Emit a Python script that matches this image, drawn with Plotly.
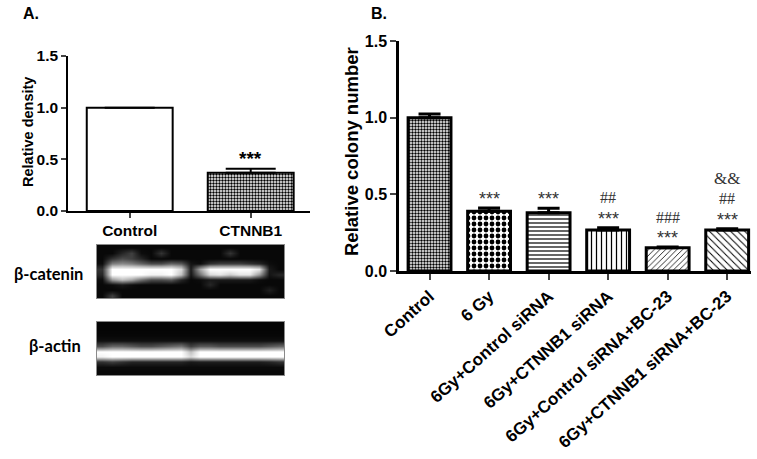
import plotly.graph_objects as go

# ---------------- data ----------------
a_categories = ["Control", "CTNNB1"]
a_values = [1.0, 0.37]
a_errors = [None, 0.04]
a_sig = ["", "***"]

b_categories = ["Control", "6 Gy", "6Gy+Control siRNA", "6Gy+CTNNB1 siRNA",
                "6Gy+Control siRNA+BC-23", "6Gy+CTNNB1 siRNA+BC-23"]
b_values = [1.0, 0.39, 0.38, 0.267, 0.152, 0.267]
b_errors = [0.024, 0.021, 0.029, 0.015, 0.004, 0.008]
b_stars = ["", "***", "***", "***", "***", "***"]
b_hashes = ["", "", "", "##", "###", "##"]
b_amps = ["", "", "", "", "", "&&"]

y_ticks = [0.0, 0.5, 1.0, 1.5]

# western blot intensities (rows top->bottom, columns left->right)
blot_catenin = [
    [0.03]*19,
    [0.03, 0.03, 0.15, 0.25, 0.05, 0.03, 0.2, 0.03, 0.03, 0.03, 0.03, 0.03, 0.03, 0.2, 0.03, 0.03, 0.03, 0.03, 0.03],
    [0.03, 0.2, 0.3, 0.25, 0.15, 0.03, 0.03, 0.03, 0.03, 0.03, 0.03, 0.03, 0.03, 0.03, 0.03, 0.03, 0.03, 0.03, 0.03],
    [0.05, 0.5, 0.55, 0.5, 0.4, 0.3, 0.3, 0.4, 0.35, 0.08, 0.05, 0.2, 0.25, 0.25, 0.25, 0.2, 0.15, 0.05, 0.03],
    [0.2, 1.0, 1.0, 1.0, 1.0, 1.0, 1.0, 1.0, 0.85, 0.1, 0.65, 1.0, 1.0, 1.0, 1.0, 1.0, 0.9, 0.1, 0.03],
    [0.15, 1.0, 1.0, 1.0, 1.0, 0.95, 0.95, 1.0, 0.75, 0.08, 0.45, 0.85, 0.9, 0.8, 0.9, 0.9, 0.6, 0.08, 0.15],
    [0.05, 0.6, 0.75, 0.65, 0.45, 0.3, 0.3, 0.35, 0.15, 0.03, 0.05, 0.1, 0.1, 0.1, 0.1, 0.1, 0.05, 0.03, 0.03],
    [0.03, 0.05, 0.1, 0.05, 0.03, 0.03, 0.03, 0.03, 0.03, 0.03, 0.03, 0.15, 0.03, 0.03, 0.03, 0.03, 0.03, 0.03, 0.03],
    [0.03, 0.03, 0.03, 0.03, 0.03, 0.03, 0.03, 0.03, 0.03, 0.03, 0.03, 0.03, 0.03, 0.03, 0.03, 0.03, 0.03, 0.12, 0.03],
    [0.03, 0.25, 0.03, 0.03, 0.03, 0.03, 0.03, 0.03, 0.03, 0.03, 0.03, 0.03, 0.03, 0.03, 0.03, 0.03, 0.03, 0.03, 0.03],
]
blot_actin = [
    [0.02]*19,
    [0.02]*19,
    [0.03]*19,
    [0.06]*19,
    [0.3, 0.4, 0.4, 0.35, 0.3, 0.3, 0.35, 0.4, 0.45, 0.25, 0.35, 0.35, 0.3, 0.3, 0.3, 0.3, 0.3, 0.35, 0.4],
    [1.0, 1.0, 1.0, 1.0, 1.0, 1.0, 1.0, 1.0, 1.0, 0.75, 1.0, 1.0, 1.0, 1.0, 1.0, 1.0, 1.0, 1.0, 1.0],
    [0.95, 1.0, 1.0, 1.0, 1.0, 1.0, 1.0, 1.0, 1.0, 0.85, 1.0, 1.0, 1.0, 1.0, 1.0, 1.0, 1.0, 1.0, 1.0],
    [0.2, 0.25, 0.2, 0.15, 0.15, 0.15, 0.15, 0.15, 0.15, 0.1, 0.12, 0.12, 0.12, 0.12, 0.12, 0.12, 0.12, 0.15, 0.2],
    [0.04]*19,
    [0.03]*19,
]

# ---------------- styling ----------------
SANS = "Liberation Sans, Arial, sans-serif"
SERIF = "Liberation Serif, Times New Roman, serif"
W, H = 757, 459

def px_x(p):
    return p / W

def px_y(p):
    return 1 - p / H

fig = go.Figure()

# Panel A bars
fig.add_trace(go.Bar(
    x=a_categories, y=a_values, xaxis="x", yaxis="y", width=0.71,
    marker=dict(color="white", line=dict(color="black", width=2),
                pattern=dict(shape=["", "."], size=3, solidity=0.5,
                             fgcolor="black", bgcolor="white")),
    error_y=dict(type="data", symmetric=False, array=a_errors,
                 arrayminus=[0, 0], color="black", thickness=2, width=25),
    hoverinfo="skip",
))

# Panel B bars
fig.add_trace(go.Bar(
    x=b_categories, y=b_values, xaxis="x2", yaxis="y2", width=0.72,
    marker=dict(color="white", line=dict(color="black", width=3),
                pattern=dict(shape=[".", ".", "-", "|", "/", "\\"],
                             size=[3, 6, 4, 5, 4, 5],
                             solidity=[0.5, 0.5, 0.3, 0.25, 0.2, 0.2],
                             fgcolor="black", bgcolor="white")),
    error_y=dict(type="data", symmetric=False, array=b_errors,
                 arrayminus=[0]*6, color="black", thickness=3, width=11),
    hoverinfo="skip",
))

gray = [[0, "black"], [1, "white"]]
fig.add_trace(go.Heatmap(z=blot_catenin, xaxis="x3", yaxis="y3", colorscale=gray,
                         zmin=0, zmax=1, zsmooth="best", showscale=False, hoverinfo="skip"))
fig.add_trace(go.Heatmap(z=blot_actin, xaxis="x4", yaxis="y4", colorscale=gray,
                         zmin=0, zmax=1, zsmooth="best", showscale=False, hoverinfo="skip"))

tick_font_a = dict(family=SANS, size=15.5, color="black", weight="bold")
tick_font_b = dict(family=SANS, size=16, color="black", weight="bold")
tick_font_bx = dict(family=SANS, size=17, color="black", weight="bold")

blot_axis = dict(showgrid=False, zeroline=False, showticklabels=False, ticks="",
                 showline=True, mirror=True, linecolor="#8a8a8a", linewidth=1,
                 automargin=False)

fig.update_layout(
    template="none",
    width=W, height=H, margin=dict(l=0, r=0, t=0, b=0, pad=0), autosize=False,
    paper_bgcolor="white", plot_bgcolor="white", showlegend=False,
    xaxis=dict(domain=[px_x(68), px_x(310)], anchor="y", range=[-0.51, 1.49],
               showgrid=False, zeroline=False, showline=True, linecolor="black",
               linewidth=1.5, ticks="outside", ticklen=5, tickwidth=1.5,
               tickfont=tick_font_a, automargin=False),
    yaxis=dict(domain=[px_y(211), px_y(56)], anchor="x", range=[0, 1.5],
               tickvals=y_ticks, tickformat=".1f", showgrid=False, zeroline=False,
               showline=True, linecolor="black", linewidth=1.5, ticks="outside",
               ticklen=5, tickwidth=1.5, tickfont=tick_font_a, automargin=False),
    xaxis2=dict(domain=[px_x(399), px_x(751)], anchor="y2", range=[-0.513, 5.40],
                showgrid=False, zeroline=False, showline=True, linecolor="black",
                linewidth=2.5, ticks="outside", ticklen=6, tickwidth=2,
                tickangle=-42, tickfont=tick_font_bx, automargin=False),
    yaxis2=dict(domain=[px_y(271), px_y(41)], anchor="x2", range=[0, 1.5],
                tickvals=y_ticks, tickformat=".1f", showgrid=False, zeroline=False,
                showline=True, linecolor="black", linewidth=2.5, ticks="outside",
                ticklen=6, tickwidth=2, tickfont=tick_font_b, automargin=False),
    xaxis3=dict(domain=[px_x(97), px_x(284)], anchor="y3", range=[-0.5, 18.5], **blot_axis),
    yaxis3=dict(domain=[px_y(298), px_y(245)], anchor="x3", range=[9.5, -0.5], **blot_axis),
    xaxis4=dict(domain=[px_x(97), px_x(284)], anchor="y4", range=[-0.5, 18.5], **blot_axis),
    yaxis4=dict(domain=[px_y(375), px_y(322)], anchor="x4", range=[9.5, -0.5], **blot_axis),
)

ann = []
# panel labels
ann.append(dict(text="A.", x=px_x(21), y=px_y(13), xref="paper", yref="paper",
                xanchor="left", yanchor="middle", showarrow=False,
                font=dict(family=SANS, size=16, color="black", weight="bold")))
ann.append(dict(text="B.", x=px_x(369), y=px_y(13), xref="paper", yref="paper",
                xanchor="left", yanchor="middle", showarrow=False,
                font=dict(family=SANS, size=16, color="black", weight="bold")))
# axis titles
ann.append(dict(text="Relative density", x=px_x(28), y=px_y(132), xref="paper", yref="paper",
                xanchor="center", yanchor="middle", textangle=-90, showarrow=False,
                font=dict(family=SANS, size=14.5, color="black", weight="bold")))
ann.append(dict(text="Relative colony number", x=px_x(351), y=px_y(152), xref="paper",
                yref="paper", xanchor="center", yanchor="middle", textangle=-90,
                showarrow=False, font=dict(family=SANS, size=18.5, color="black", weight="bold")))
# blot labels
ann.append(dict(text="β-catenin", x=px_x(85), y=px_y(274), xref="paper", yref="paper",
                xanchor="right", yanchor="middle", showarrow=False,
                font=dict(family="Lato", size=16.5, color="black", weight="bold")))
ann.append(dict(text="β-actin", x=px_x(83), y=px_y(346), xref="paper", yref="paper",
                xanchor="right", yanchor="middle", showarrow=False,
                font=dict(family="Lato", size=16.5, color="black", weight="bold")))

# significance marks panel A
for cat, v, e, s in zip(a_categories, a_values, a_errors, a_sig):
    if s:
        ann.append(dict(text=s, x=cat, y=v + (e or 0), xref="x", yref="y",
                        yanchor="middle", yshift=10, showarrow=False,
                        font=dict(family=SANS, size=19, color="black", weight="bold")))

# significance marks panel B
for cat, v, e, st, hs, am in zip(b_categories, b_values, b_errors, b_stars, b_hashes, b_amps):
    top = v + e
    if st:
        ann.append(dict(text=st, x=cat, y=top, xref="x2", yref="y2", yanchor="middle",
                        yshift=9, showarrow=False,
                        font=dict(family=SANS, size=18, color="#333333")))
    if hs:
        ann.append(dict(text=hs, x=cat, y=top, xref="x2", yref="y2", yanchor="middle",
                        yshift=30, showarrow=False,
                        font=dict(family=SERIF, size=16, color="#333333")))
    if am:
        ann.append(dict(text=am, x=cat, y=top, xref="x2", yref="y2", yanchor="middle",
                        yshift=50, showarrow=False,
                        font=dict(family=SERIF, size=17, color="#333333")))

fig.update_layout(annotations=ann)

fig.write_html("out.html", config={"displayModeBar": False},
               post_script="document.body.style.margin='0';document.documentElement.style.margin='0';")
